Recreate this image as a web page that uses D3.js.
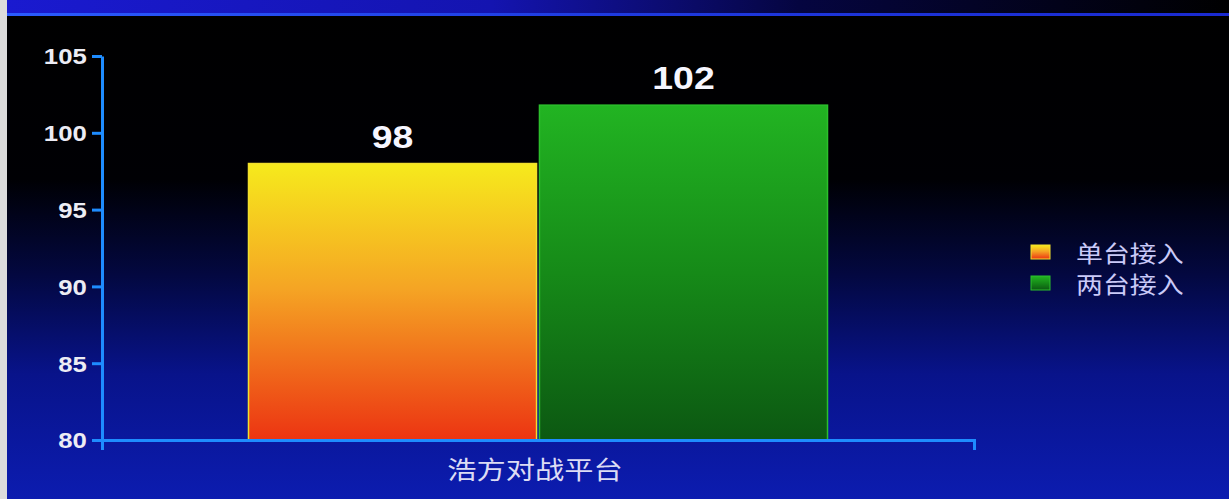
<!DOCTYPE html>
<html><head><meta charset="utf-8">
<script src="https://cdn.jsdelivr.net/npm/d3@7"></script>
<style>html,body{margin:0;padding:0;background:#000;overflow:hidden}</style>
</head><body>
<svg id="c" width="1229" height="499"></svg>
<script>
const categories = ["浩方对战平台"];
const series = ["单台接入", "两台接入"];
const values = [98, 101.8];
const valueLabels = ["98", "102"];
const yTicks = [80, 85, 90, 95, 100, 105];

const W = 1229, H = 499, SX = 1.17;
const svg = d3.select("#c");
const defs = svg.append("defs");

const bg = defs.append("linearGradient").attr("id","bg").attr("x1",0).attr("y1",0).attr("x2",0).attr("y2",1);
[[0,"#000000"],[0.36,"#000004"],[0.55,"#030840"],[0.75,"#08138a"],[1,"#0c1cb0"]].forEach(s=>bg.append("stop").attr("offset",s[0]).attr("stop-color",s[1]));
const band = defs.append("linearGradient").attr("id","band").attr("x1",0).attr("y1",0).attr("x2",1).attr("y2",0);
[[0,"#1a1ad0"],[0.4,"#1414b0"],[0.65,"#050540"],[1,"#000000"]].forEach(s=>band.append("stop").attr("offset",s[0]).attr("stop-color",s[1]));
const bandLine = defs.append("linearGradient").attr("id","bandLine").attr("x1",0).attr("y1",0).attr("x2",1).attr("y2",0);
[[0,"#2a5cff"],[0.5,"#1e3ae0"],[1,"#1a2ad0"]].forEach(s=>bandLine.append("stop").attr("offset",s[0]).attr("stop-color",s[1]));
const g0 = defs.append("linearGradient").attr("id","g0").attr("x1",0).attr("y1",0).attr("x2",0).attr("y2",1);
[[0,"#f6ea1c"],[0.45,"#f5a524"],[1,"#ec3412"]].forEach(s=>g0.append("stop").attr("offset",s[0]).attr("stop-color",s[1]));
const g1 = defs.append("linearGradient").attr("id","g1").attr("x1",0).attr("y1",0).attr("x2",0).attr("y2",1);
[[0,"#22b422"],[0.5,"#168a18"],[1,"#0c5812"]].forEach(s=>g1.append("stop").attr("offset",s[0]).attr("stop-color",s[1]));
const fills = ["url(#g0)","url(#g1)"];
const strokes = ["#f2e02c","#2cc02c"];

// background
svg.append("rect").attr("width",W).attr("height",H).attr("fill","url(#bg)");
svg.append("rect").attr("width",W).attr("height",14).attr("fill","url(#band)");
svg.append("rect").attr("y",13).attr("width",W).attr("height",3).attr("fill","url(#bandLine)");
svg.append("rect").attr("x",0).attr("y",0).attr("width",7).attr("height",H).attr("fill","#dcdcdc");

// scales
const y = d3.scaleLinear().domain([80,105]).range([440,56]);
const x0 = d3.scaleBand().domain(categories).range([102,974]).paddingInner(0).paddingOuter(0.253);
const x1 = d3.scaleBand().domain(series).range([0,x0.bandwidth()]).paddingInner(0.01).paddingOuter(0);

// bars
const gb = svg.append("g");
categories.forEach(c=>{
  series.forEach((s,i)=>{
    gb.append("rect")
      .attr("x", x0(c)+x1(s)).attr("y", y(values[i]))
      .attr("width", x1.bandwidth()).attr("height", y(80)-y(values[i]))
      .attr("fill", fills[i]).attr("stroke", strokes[i]).attr("stroke-width",1.5);
    gb.append("text")
      .attr("transform",`translate(${x0(c)+x1(s)+x1.bandwidth()/2},${y(values[i])-16}) scale(${SX},1)`)
      .attr("text-anchor","middle").attr("font-family","'Liberation Sans',Arial,sans-serif")
      .attr("font-weight","bold").attr("font-size",32).attr("fill","#f6f6ff")
      .text(valueLabels[i]);
  });
});

// axes
const axisColor = "#1e8cff";
const ya = svg.append("g").attr("transform","translate(102,0)")
  .call(d3.axisLeft(y).tickValues(yTicks).tickSize(10).tickSizeOuter(0).tickPadding(3));
const xa = svg.append("g").attr("transform","translate(0,440)")
  .call(d3.axisBottom(x0).tickSizeInner(0).tickSizeOuter(10).tickFormat(""));
[ya,xa].forEach(a=>{
  a.selectAll("path,line").attr("stroke",axisColor).attr("stroke-width",3);
});
ya.selectAll(".tick text")
  .attr("font-family","'Liberation Sans',Arial,sans-serif").attr("font-weight","bold")
  .attr("font-size",22).attr("fill","#ececf4").attr("transform",`scale(${SX},1)`).attr("dy","0.36em");

// category label
categories.forEach(c=>{
  svg.append("text")
    .attr("transform",`translate(${x0(c)+x0.bandwidth()/2-3},${468}) scale(${SX},1)`)
    .attr("text-anchor","middle").attr("dominant-baseline","central")
    .attr("font-family","'Noto Sans CJK SC',sans-serif").attr("font-size",25)
    .attr("fill","#dcdcf4").text(c);
});

// legend
const lg = svg.append("g");
series.forEach((s,i)=>{
  const cy = 252 + i*31;
  lg.append("rect").attr("x",1031).attr("y",cy-7).attr("width",19).attr("height",14)
    .attr("fill",fills[i]).attr("stroke",strokes[i]).attr("stroke-width",1);
  lg.append("text")
    .attr("transform",`translate(1076,${cy}) scale(${SX},1)`)
    .attr("dominant-baseline","central")
    .attr("font-family","'Noto Sans CJK SC',sans-serif").attr("font-size",23)
    .attr("fill","#cacaf8").text(s);
});
</script>
</body></html>
